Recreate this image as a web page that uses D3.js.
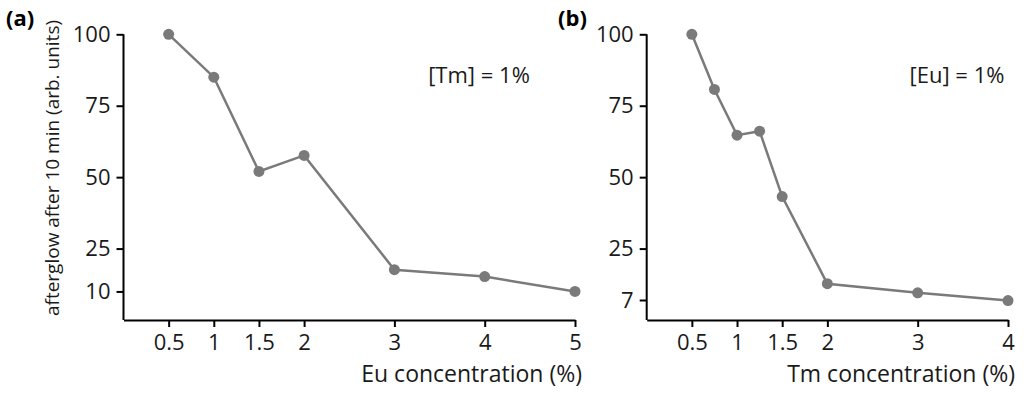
<!DOCTYPE html>
<html>
<head>
<meta charset="utf-8">
<script src="https://cdn.jsdelivr.net/npm/d3@7"></script>
<style>
  body { margin: 0; background: #fff; }
  svg { display: block; font-family: "Open Sans", sans-serif; }
  .axis path, .axis line { stroke: #000; stroke-width: 2; }
  .axis text { font-family: "Open Sans", sans-serif; font-size: 22px; fill: #1a1a1a; }
</style>
</head>
<body>
<script>
// panel (a): Eu concentration, [Tm] = 1%
const euConc = [0.5, 1, 1.5, 2, 3, 4, 5];
const euAfterglow = [100, 85, 52, 57.6, 17.6, 15.2, 10];
const euTicksX = [0.5, 1, 1.5, 2, 3, 4, 5];
const euTicksY = [10, 25, 50, 75, 100];

// panel (b): Tm concentration, [Eu] = 1%
const tmConc = [0.5, 0.75, 1, 1.25, 1.5, 2, 3, 4];
const tmAfterglow = [100, 80.7, 64.7, 66.1, 43.2, 12.7, 9.5, 6.8];
const tmTicksX = [0.5, 1, 1.5, 2, 3, 4];
const tmTicksY = [7, 25, 50, 75, 100];

const width = 1024, height = 394;
const lineColor = "#7a7a7a";

const svg = d3.select("body").append("svg")
  .attr("width", width)
  .attr("height", height);

function panel(opts) {
  const x = d3.scaleLinear().domain([0, opts.xMax]).range([opts.left, opts.right]);
  const y = d3.scaleLinear().domain([0, 100]).range([320, 34.3]);

  svg.append("g")
    .attr("class", "axis")
    .attr("transform", "translate(0,320)")
    .call(d3.axisBottom(x).tickValues(opts.ticksX).tickSize(7).tickSizeOuter(0).tickPadding(7)
      .tickFormat(d3.format("")))
    .call(g => g.selectAll("text").attr("dy", "0.71em"));

  svg.append("g")
    .attr("class", "axis")
    .attr("transform", "translate(" + opts.left + ",0)")
    .call(d3.axisLeft(y).tickValues(opts.ticksY).tickSize(7).tickSizeOuter(0).tickPadding(6))
    .call(g => g.select(".domain").attr("d", "M0," + y(100) + "V320"));

  const line = d3.line().x(d => x(d[0])).y(d => y(d[1]));
  const pts = opts.xs.map((v, i) => [v, opts.ys[i]]);

  svg.append("path")
    .datum(pts)
    .attr("d", line)
    .attr("fill", "none")
    .attr("stroke", lineColor)
    .attr("stroke-width", 2.5);

  svg.selectAll(null)
    .data(pts)
    .enter()
    .append("circle")
    .attr("cx", d => x(d[0]))
    .attr("cy", d => y(d[1]))
    .attr("r", 5.5)
    .attr("fill", lineColor);

  svg.append("text")
    .attr("x", opts.right + 7)
    .attr("y", 382)
    .attr("text-anchor", "end")
    .style("font-size", "23px")
    .style("fill", "#1a1a1a")
    .text(opts.xTitle);

  svg.append("text")
    .attr("x", opts.noteX)
    .attr("y", 83)
    .attr("text-anchor", "middle")
    .style("font-size", "22px")
    .style("fill", "#1a1a1a")
    .text(opts.note);

  svg.append("text")
    .attr("x", opts.tagX)
    .attr("y", 26)
    .style("font-size", "22px")
    .style("font-weight", "bold")
    .text(opts.tag);
}

panel({
  xs: euConc, ys: euAfterglow, ticksX: euTicksX, ticksY: euTicksY,
  xMax: 5, left: 123.5, right: 575,
  xTitle: "Eu concentration (%)", note: "[Tm] = 1%", noteX: 479, tag: "(a)", tagX: 6
});

panel({
  xs: tmConc, ys: tmAfterglow, ticksX: tmTicksX, ticksY: tmTicksY,
  xMax: 4, left: 646.7, right: 1008,
  xTitle: "Tm concentration (%)", note: "[Eu] = 1%", noteX: 957, tag: "(b)", tagX: 558
});

svg.append("text")
  .attr("transform", "translate(59,168) rotate(-90)")
  .attr("text-anchor", "middle")
  .style("font-size", "19px")
  .style("fill", "#1a1a1a")
  .text("afterglow after 10 min (arb. units)");
</script>
</body>
</html>
